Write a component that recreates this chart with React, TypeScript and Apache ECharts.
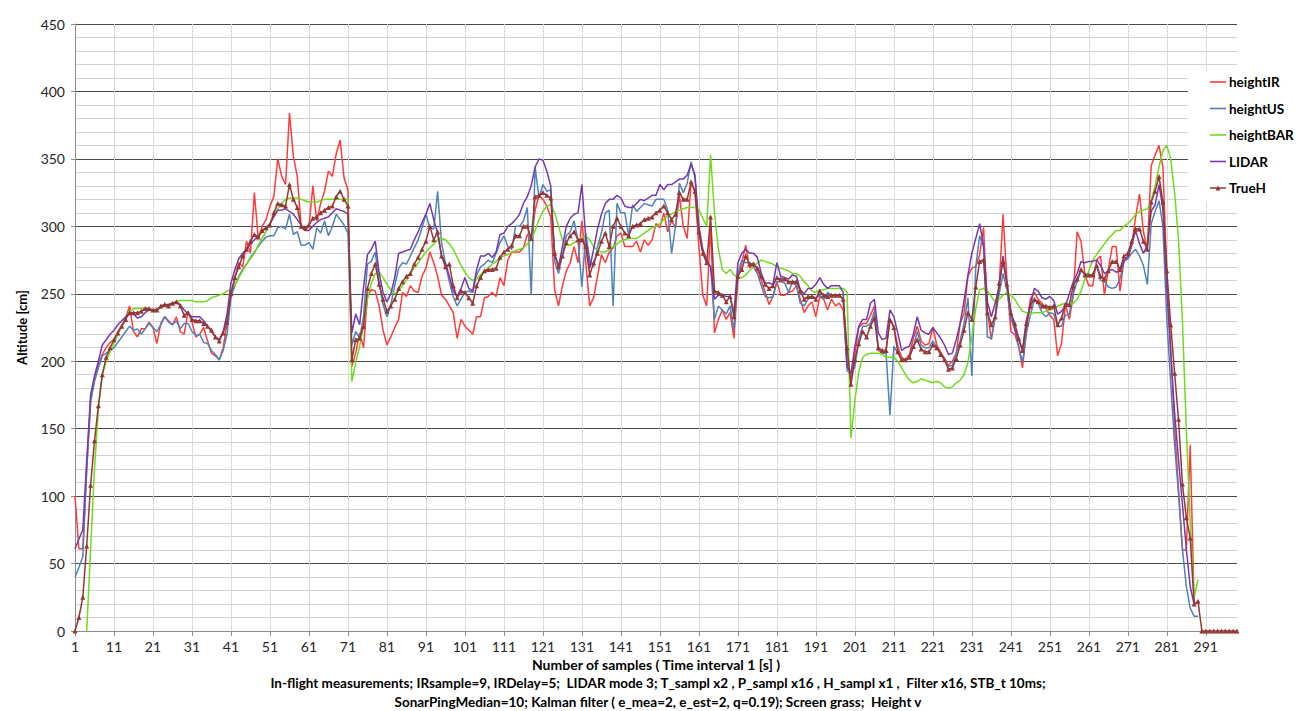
import React, { useEffect, useRef } from 'react';
import * as echarts from 'echarts';

const SAMPLE_COUNT = 299;
const categories = Array.from({ length: SAMPLE_COUNT }, (_, i) => String(i + 1));

const heightIR = [
  100, 61, 61, 120, 170, 188, 198, 205, 210, 214,
  216, 222, 227, 232, 241, 222, 218, 224, 224, 229,
  225, 213, 228, 233, 230, 227, 233, 222, 220, 237,
  229, 218, 220, 225, 215, 206, 204, 201, 210, 228,
  250, 262, 273, 270, 289, 280, 325, 291, 300, 305,
  315, 322, 350, 337, 331, 384, 352, 337, 300, 297,
  300, 330, 304, 317, 326, 341, 337, 354, 364, 336,
  327, 196, 206, 221, 210, 248, 253, 252, 241, 223,
  212, 218, 225, 231, 251, 248, 256, 252, 251, 263,
  269, 281, 273, 263, 249, 246, 241, 236, 217, 231,
  226, 223, 220, 233, 233, 247, 248, 251, 248, 262,
  256, 275, 281, 281, 281, 284, 294, 290, 312, 323,
  320, 315, 307, 253, 241, 256, 267, 273, 285, 273,
  304, 273, 241, 247, 263, 279, 273, 281, 284, 293,
  295, 285, 285, 285, 289, 281, 290, 286, 290, 302,
  299, 310, 296, 304, 299, 323, 300, 291, 333, 325,
  285, 249, 241, 301, 221, 231, 238, 231, 236, 217,
  262, 273, 286, 269, 273, 268, 260, 251, 242, 248,
  259, 249, 249, 251, 252, 256, 246, 236, 241, 244,
  233, 248, 246, 238, 246, 241, 243, 238, 199, 186,
  205, 225, 228, 228, 234, 241, 208, 207, 208, 231,
  226, 211, 203, 201, 205, 217, 226, 215, 212, 213,
  225, 212, 207, 202, 197, 200, 206, 228, 236, 263,
  269, 270, 279, 299, 237, 216, 233, 255, 309, 260,
  222, 220, 211, 195, 223, 246, 251, 246, 243, 239,
  234, 231, 204, 213, 242, 231, 248, 296, 289, 264,
  256, 256, 275, 278, 249, 268, 285, 285, 252, 275,
  276, 286, 307, 324, 296, 283, 345, 353, 360, 344,
  267, 209, 151, 105, 60, 60, 138, 20,
];

const heightUS = [
  40, 47, 55, 120, 170, 185, 195, 204, 206, 208,
  210, 214, 218, 222, 226, 223, 224, 220, 224, 228,
  225, 222, 227, 233, 229, 227, 230, 224, 228, 228,
  222, 219, 220, 214, 213, 208, 205, 201, 208, 220,
  248, 256, 263, 268, 272, 277, 281, 285, 289, 292,
  293, 293, 299, 300, 298, 309, 294, 296, 286, 286,
  288, 283, 299, 295, 304, 293, 300, 309, 305, 301,
  295, 212, 222, 217, 233, 272, 274, 281, 258, 242,
  233, 242, 256, 269, 273, 272, 278, 284, 290, 299,
  309, 299, 298, 326, 288, 272, 259, 248, 241, 246,
  251, 252, 251, 264, 270, 272, 275, 273, 280, 288,
  293, 285, 283, 300, 300, 304, 314, 249, 344, 321,
  331, 326, 327, 274, 265, 279, 293, 296, 304, 289,
  255, 295, 275, 270, 285, 295, 310, 312, 241, 317,
  310, 310, 293, 316, 311, 314, 317, 316, 315, 320,
  320, 320, 312, 280, 300, 332, 325, 332, 348, 336,
  295, 281, 273, 270, 231, 241, 238, 235, 241, 223,
  265, 275, 273, 273, 270, 265, 256, 248, 247, 248,
  259, 259, 258, 251, 259, 256, 243, 241, 246, 248,
  247, 249, 246, 251, 249, 249, 249, 246, 193, 190,
  196, 216, 226, 226, 228, 237, 210, 206, 206, 160,
  211, 206, 201, 201, 203, 211, 222, 212, 210, 210,
  215, 210, 206, 201, 196, 197, 206, 215, 228, 247,
  189, 270, 293, 285, 218, 217, 233, 250, 265, 253,
  231, 225, 211, 199, 221, 234, 245, 243, 236, 233,
  236, 235, 226, 226, 234, 235, 250, 259, 267, 265,
  264, 264, 271, 260, 259, 255, 254, 255, 261, 274,
  276, 280, 283, 278, 271, 257, 302, 311, 319, 300,
  231, 184, 138, 102, 61, 33, 17, 11, 11,
];

const heightBAR = [
  null, null, null, 0, 60, 120, 165, 190, 200, 207,
  213, 220, 226, 232, 237, 239, 239, 239, 239, 238,
  238, 239, 240, 241, 242, 243, 244, 245, 245, 245,
  245, 244, 244, 244, 245, 247, 248, 249, 250, 252,
  253, 257, 262, 267, 272, 276, 280, 286, 291, 296,
  302, 308, 313, 317, 320, 321, 321, 321, 320, 319,
  318, 318, 318, 319, 320, 320, 320, 320, 320, 320,
  320, 185, 199, 211, 226, 246, 258, 265, 266, 262,
  257, 253, 250, 252, 256, 260, 265, 269, 273, 277,
  281, 284, 287, 290, 291, 290, 287, 283, 277, 271,
  266, 262, 260, 261, 264, 267, 269, 272, 274, 277,
  278, 279, 281, 282, 283, 284, 287, 290, 297, 305,
  311, 315, 316, 310, 300, 290, 286, 286, 288, 289,
  291, 293, 290, 285, 282, 281, 281, 283, 285, 287,
  289, 290, 291, 291, 291, 293, 295, 297, 299, 300,
  302, 305, 308, 309, 311, 312, 313, 314, 314, 314,
  312, 306, 300, 353, 310, 283, 268, 265, 268, 264,
  262, 262, 264, 267, 270, 273, 275, 274, 273, 272,
  270, 269, 268, 267, 265, 265, 263, 259, 256, 252,
  251, 253, 253, 254, 254, 254, 254, 254, 251, 143,
  171, 192, 203, 205, 206, 206, 206, 205, 203, 203,
  203, 200, 195, 190, 186, 184, 185, 187, 186, 185,
  184, 185, 184, 181, 180, 181, 184, 186, 190, 199,
  218, 239, 253, 254, 252, 248, 244, 246, 249, 251,
  249, 246, 241, 237, 236, 235, 236, 236, 236, 237,
  238, 239, 241, 242, 243, 242, 243, 246, 252, 261,
  267, 275, 279, 283, 287, 291, 294, 297, 297, 300,
  302, 305, 309, 311, 312, 313, 319, 330, 344, 356,
  360, 350, 325, 290, 230, 150, 80, 25, 38,
];

const lidar = [
  61, 68, 75, 126, 175, 189, 200, 212, 216, 220,
  223, 227, 230, 233, 236, 235, 232, 233, 236, 238,
  238, 238, 240, 242, 242, 243, 244, 242, 238, 235,
  233, 233, 233, 230, 226, 222, 218, 216, 222, 235,
  258, 268, 276, 280, 283, 287, 290, 293, 296, 299,
  302, 307, 312, 312, 313, 311, 309, 305, 301, 297,
  297, 300, 303, 305, 306, 307, 310, 313, 312, 311,
  309, 221, 235, 227, 255, 279, 283, 289, 265, 251,
  244, 250, 262, 280, 281, 282, 283, 290, 296, 303,
  309, 317, 305, 295, 278, 273, 263, 252, 248, 254,
  262, 254, 252, 268, 278, 278, 280, 277, 281, 294,
  295, 300, 302, 305, 309, 317, 322, 330, 344, 350,
  349, 341, 330, 279, 270, 285, 300, 306, 309, 310,
  331, 290, 269, 283, 298, 309, 317, 320, 320, 323,
  321, 315, 314, 314, 317, 320, 319, 321, 323, 323,
  331, 327, 331, 331, 333, 335, 335, 338, 346, 338,
  300, 283, 275, 270, 246, 249, 249, 248, 248, 236,
  273, 280, 283, 280, 280, 277, 265, 258, 258, 257,
  273, 263, 262, 261, 264, 263, 253, 250, 254, 254,
  257, 262, 257, 254, 256, 256, 256, 251, 196, 191,
  211, 226, 231, 231, 243, 246, 221, 216, 217, 238,
  233, 221, 208, 210, 211, 220, 233, 223, 221, 220,
  225, 221, 217, 212, 205, 206, 216, 228, 245, 264,
  280, 291, 302, 286, 244, 233, 243, 255, 278, 258,
  237, 223, 216, 208, 231, 241, 254, 252, 247, 246,
  248, 245, 235, 237, 241, 250, 259, 265, 274, 273,
  274, 274, 275, 271, 265, 267, 268, 266, 267, 274,
  278, 286, 297, 287, 280, 286, 311, 316, 331, 313,
  253, 206, 162, 127, 94, 61, 33, 20,
];

const trueH = [
  0, 10, 25, 63, 108, 141, 167, 190, 203, 210,
  216, 221, 226, 231, 236, 236, 236, 237, 239, 239,
  238, 238, 241, 242, 241, 243, 244, 241, 234, 236,
  231, 230, 230, 228, 226, 223, 218, 215, 221, 229,
  250, 262, 270, 278, 283, 289, 294, 292, 297, 299,
  301, 310, 317, 316, 315, 331, 320, 314, 300, 299,
  301, 306, 307, 310, 312, 314, 315, 322, 326, 320,
  315, 201, 216, 217, 226, 254, 265, 272, 257, 246,
  237, 241, 246, 254, 259, 263, 265, 272, 277, 283,
  289, 300, 290, 296, 278, 270, 272, 256, 247, 252,
  251, 247, 243, 256, 262, 267, 268, 268, 269, 277,
  281, 283, 286, 293, 293, 300, 300, 291, 322, 323,
  325, 323, 321, 280, 270, 278, 288, 293, 296, 290,
  290, 285, 264, 273, 280, 289, 295, 285, 300, 306,
  300, 295, 293, 300, 301, 302, 305, 306, 307, 310,
  312, 315, 310, 305, 309, 325, 320, 320, 333, 326,
  296, 280, 273, 307, 252, 251, 249, 244, 248, 233,
  263, 268, 278, 272, 272, 269, 263, 257, 254, 256,
  262, 261, 261, 259, 259, 259, 252, 246, 248, 248,
  246, 252, 249, 248, 249, 249, 249, 246, 210, 183,
  201, 213, 222, 218, 226, 232, 210, 208, 208, 231,
  225, 207, 201, 201, 203, 211, 216, 209, 207, 207,
  212, 210, 205, 201, 194, 195, 202, 212, 223, 236,
  231, 255, 274, 275, 236, 227, 233, 258, 274, 257,
  236, 228, 217, 208, 228, 241, 246, 244, 241, 241,
  240, 241, 227, 232, 242, 242, 256, 261, 268, 264,
  264, 264, 271, 263, 261, 267, 274, 274, 268, 278,
  280, 289, 298, 298, 289, 283, 318, 326, 337, 318,
  267, 227, 191, 157, 109, 84, 69, 20, 22, 0,
  0, 0, 0, 0, 0, 0, 0, 0, 0,
];

const seriesNames = ['heightIR', 'heightUS', 'heightBAR', 'LIDAR', 'TrueH'];
const seriesColors = ['#ff3b3b', '#4f81bd', '#6fdc1c', '#7439b0', '#953735'];
const seriesData = [heightIR, heightUS, heightBAR, lidar, trueH];

const footLine1 =
  'In-flight measurements; IRsample=9, IRDelay=5;  LIDAR mode 3; T_sampl x2 , P_sampl x16 , H_sampl x1 ,  Filter x16, STB_t 10ms;';
const footLine2 =
  'SonarPingMedian=10; Kalman filter ( e_mea=2, e_est=2, q=0.19); Screen grass;  Height v';

const FONT = 'Lato, "Open Sans", sans-serif';

const LINE_ICON = 'path://M0,0 L0,0 M16,8 L16,8 M0,3.2 L16,3.2 L16,4.8 L0,4.8 Z';
const MARKER_ICON =
  'path://M0,0 L0,0 M16,8 L16,8 M0,3.2 L16,3.2 L16,4.8 L0,4.8 Z M5.6,6.4 L8,1.6 L10.4,6.4 Z';

export default function App() {
  const ref = useRef<HTMLDivElement>(null);

  useEffect(() => {
    document.body.style.margin = '0';
    const chart = echarts.init(ref.current as HTMLDivElement, null, { renderer: 'svg' });
    chart.setOption({
      animation: false,
      backgroundColor: '#ffffff',
      textStyle: { fontFamily: FONT },
      grid: { left: 75, right: 64, top: 24, bottom: 80, containLabel: false },
      legend: {
        orient: 'vertical',
        left: 1188,
        top: 71,
        backgroundColor: '#ffffff',
        padding: [4, 8, 6, 22],
        itemWidth: 16,
        itemHeight: 8,
        itemGap: 12.5,
        data: seriesNames.map((name) => ({
          name,
          icon: name === 'TrueH' ? MARKER_ICON : LINE_ICON,
        })),
        textStyle: { fontFamily: FONT, fontSize: 13.5, fontWeight: 'bold', color: '#000', padding: [0, 0, 0, -2] },
      },
      xAxis: {
        type: 'category',
        boundaryGap: false,
        data: categories,
        name: 'Number of samples ( Time interval 1 [s] )',
        nameLocation: 'middle',
        nameGap: 25,
        nameTextStyle: { fontFamily: FONT, fontSize: 14, fontWeight: 'bold', color: '#000' },
        axisLine: { lineStyle: { color: '#8c8c8c', width: 1 } },
        axisTick: { show: true, interval: 9, length: 5, lineStyle: { color: '#8c8c8c' } },
        axisLabel: { interval: 9, margin: 8, fontSize: 14, color: '#262626', fontFamily: FONT },
        splitLine: { show: true, interval: 9, lineStyle: { color: '#d9d9d9', width: 1 } },
      },
      yAxis: {
        type: 'value',
        min: 0,
        max: 450,
        interval: 50,
        name: 'Altitude [cm]',
        nameLocation: 'middle',
        nameGap: 47,
        nameRotate: 90,
        nameTextStyle: { fontFamily: FONT, fontSize: 13, fontWeight: 'bold', color: '#000' },
        axisLine: { show: true, lineStyle: { color: '#8c8c8c', width: 1 } },
        axisTick: { show: true, length: 4, lineStyle: { color: '#8c8c8c' } },
        axisLabel: { margin: 10, fontSize: 14, color: '#262626', fontFamily: FONT },
        splitLine: { show: true, lineStyle: { color: '#4a4a4a', width: 1 } },
        minorTick: { show: false, splitNumber: 5 },
        minorSplitLine: { show: true, lineStyle: { color: '#d0d0d0', width: 1 } },
      },
      series: seriesNames.map((name, i) => ({
        name,
        type: 'line',
        data: seriesData[i],
        color: seriesColors[i],
        lineStyle: { width: 1.5, color: seriesColors[i] },
        symbol: name === 'TrueH' ? 'triangle' : 'none',
        symbolSize: 5,
        showSymbol: name === 'TrueH',
        showAllSymbol: true,
        itemStyle: { color: seriesColors[i] },
        connectNulls: false,
        z: 2 + i,
      })),
      graphic: [
        {
          type: 'text',
          x: 658,
          y: 683,
          style: {
            text: footLine1,
            textAlign: 'center',
            textVerticalAlign: 'middle',
            font: 'bold 13.5px ' + FONT,
            fill: '#000',
          },
        },
        {
          type: 'text',
          x: 658,
          y: 702,
          style: {
            text: footLine2,
            textAlign: 'center',
            textVerticalAlign: 'middle',
            font: 'bold 13.5px ' + FONT,
            fill: '#000',
          },
        },
      ],
    });
    return () => chart.dispose();
  }, []);

  return <div ref={ref} style={{ width: 1301, height: 711 }} />;
}
